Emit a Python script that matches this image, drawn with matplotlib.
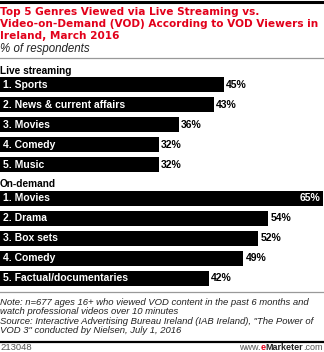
import matplotlib
matplotlib.use("Agg")
import matplotlib.pyplot as plt
from matplotlib.lines import Line2D

W, H = 324, 352

live_labels = ["1. Sports", "2. News & current affairs", "3. Movies", "4. Comedy", "5. Music"]
live_values = [45, 43, 36, 32, 32]
od_labels = ["1. Movies", "2. Drama", "3. Box sets", "4. Comedy", "5. Factual/documentaries"]
od_values = [65, 54, 52, 49, 42]

title_lines = ["Top 5 Genres Viewed via Live Streaming vs.",
               "Video-on-Demand (VOD) According to VOD Viewers in",
               "Ireland, March 2016"]
subtitle = "% of respondents"
section_titles = ["Live streaming", "On-demand"]
note_lines = ["Note: n=677 ages 16+ who viewed VOD content in the past 6 months and",
              "watch professional videos over 10 minutes",
              "Source: Interactive Advertising Bureau Ireland (IAB Ireland), \"The Power of",
              "VOD 3\" conducted by Nielsen, July 1, 2016"]
chart_id = "213048"

RED = "#e2001a"
SANS = "Liberation Sans"
BOLD = "DejaVu Sans"

fig = plt.figure(figsize=(W / 100, H / 100), dpi=100)


def fy(px):
    return 1 - px / H


def fx(px):
    return px / W


XMAX = 65.2


def draw_section(top_px, labels, values):
    ax = fig.add_axes([0, fy(top_px + 100), 1, 100 / H])
    ys = list(range(len(values)))
    ax.barh(ys, values, height=0.75, color="black")
    ax.set_xlim(0, XMAX)
    ax.set_ylim(4.5, -0.5)
    ax.axis("off")
    for y, lab, v in zip(ys, labels, values):
        ax.text(0.6, y, lab, color="white", fontsize=7.5, fontweight="bold",
                va="center", ha="left", family=SANS)
        if v >= 60:
            ax.text(v - 0.5, y, f"{v}%", color="white", fontsize=7.5,
                    fontweight="bold", va="center", ha="right", family=SANS)
        else:
            ax.text(v + 0.4, y, f"{v}%", color="black", fontsize=7.5,
                    fontweight="bold", va="center", ha="left", family=SANS)
    return ax


draw_section(74.5, live_labels, live_values)
draw_section(188.0, od_labels, od_values)

# lines
fig.add_artist(Line2D([0, 1], [fy(1.5), fy(1.5)], color="black", lw=2.2))
fig.add_artist(Line2D([0, 1], [fy(57.5), fy(57.5)], color="#999999", lw=0.9))
fig.add_artist(Line2D([0, 1], [fy(292), fy(292)], color="#999999", lw=0.9))
fig.add_artist(Line2D([0, 1], [fy(341.5), fy(341.5)], color="black", lw=1.6))

# title
for i, line in enumerate(title_lines):
    fig.text(fx(0), fy(15 + 12 * i), line, color=RED, fontsize=7.6,
             fontweight="bold", va="baseline", ha="left", family=BOLD)
fig.text(fx(0), fy(52), subtitle, color="#222222", fontsize=8.3,
         style="italic", va="baseline", ha="left", family=SANS)

fig.text(fx(0), fy(73.5), section_titles[0], color="black", fontsize=7.3,
         fontweight="bold", va="baseline", ha="left", family=SANS)
fig.text(fx(0), fy(187), section_titles[1], color="black", fontsize=7.3,
         fontweight="bold", va="baseline", ha="left", family=SANS)

for i, line in enumerate(note_lines):
    fig.text(fx(0), fy(305 + 9.3 * i), line, color="#222222", fontsize=6.8,
             style="italic", va="baseline", ha="left", family=SANS)

fig.text(fx(0), fy(350), chart_id, color="#555555", fontsize=6.8,
         va="baseline", ha="left", family=SANS)

# eMarketer logo text, right-aligned
fig.canvas.draw()
r = fig.canvas.get_renderer()
parts = [(".com", "#555555", "normal"), ("Marketer", "#222222", "bold"),
         ("e", RED, "bold"), ("www.", "#555555", "normal")]
xr = 323
for txt, col, wt in parts:
    t = fig.text(fx(xr), fy(350), txt, color=col, fontsize=6.5, fontweight=wt,
                 va="baseline", ha="right", family=SANS)
    bb = t.get_window_extent(renderer=r)
    xr = xr - bb.width

fig.savefig("out.png", dpi=100)
